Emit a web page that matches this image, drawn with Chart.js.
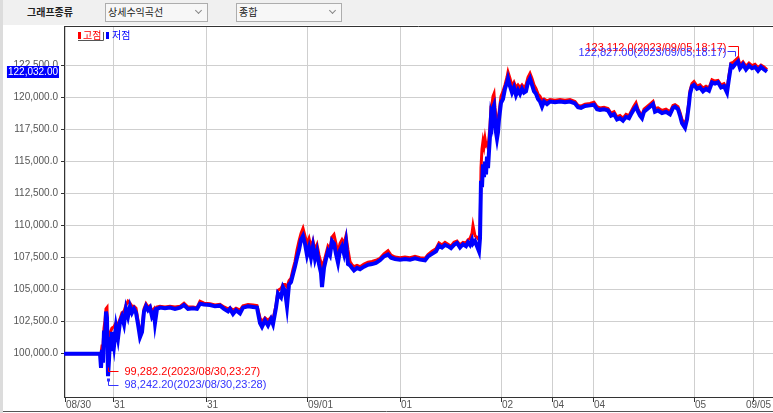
<!DOCTYPE html>
<html>
<head>
<meta charset="utf-8">
<title>상세수익곡선</title>
<script src="https://cdn.jsdelivr.net/npm/chart.js@4.4.0/dist/chart.umd.min.js"></script>
<style>
  body { margin: 0; background: #fff; }
  #wrap { position: relative; width: 773px; height: 413px; overflow: hidden; font-family: "Noto Sans CJK KR", sans-serif; }
  #chart { position: absolute; left: 0; top: 0; }
  #bar { position: absolute; left: 0; top: 0; width: 773px; height: 25px; background: #f0f0f0; }
  #bar .title { position: absolute; left: 27px; top: 6px; font-size: 10px; line-height: 12px; font-weight: bold; color: #222; }
  .combo { position: absolute; top: 3px; height: 19px; border: 1px solid #adadad; background: #f7f7f7; font-size: 10px; line-height: 12px; color: #222; box-sizing: border-box; }
  .combo span { position: absolute; left: 2px; top: 2px; }
  .combo i { position: absolute; right: 6px; top: 4px; width: 4px; height: 4px; border-right: 1px solid #888; border-bottom: 1px solid #888; transform: rotate(45deg); }
  #edge { position: absolute; left: 0; top: 0; width: 3px; height: 413px; background: #dcdcdc; }
</style>
</head>
<body>
<div id="wrap">
  <canvas id="chart" width="773" height="413"></canvas>
  <div id="bar">
    <div class="title">그래프종류</div>
    <div class="combo" style="left:105px;width:103px"><span>상세수익곡선</span><i></i></div>
    <div class="combo" style="left:236px;width:106px"><span>종합</span><i></i></div>
  </div>
  <div id="edge"></div>
</div>
<script>
// bar number (x), low and high equity values
const barIdx = [0, 36, 37, 38, 39, 40, 41, 42, 43, 44, 45, 46, 47, 48, 50, 52, 54, 56, 58, 60, 62, 64, 66, 68, 70, 72, 74, 76, 78, 80,
  82, 84, 86, 88, 90, 91, 93, 96, 101, 106, 111, 116, 120, 124, 129, 133, 136, 140, 146, 151, 156, 160, 164, 166, 169, 172, 176, 179, 184, 189,
  193, 196, 198, 201, 204, 207, 209, 212, 214, 217, 219, 221, 223, 225, 227, 229, 231, 233, 235, 237, 239, 241, 243, 245, 247, 249, 251, 253, 255, 257,
  258, 260, 262, 264, 266, 268, 270, 272, 274, 276, 278, 280, 282, 284, 286, 288, 290, 293, 296, 300, 304, 308, 312, 316, 320, 324, 327, 331, 336, 341,
  346, 351, 356, 361, 364, 368, 372, 375, 378, 381, 384, 387, 390, 393, 396, 399, 402, 404, 406, 408, 409, 411, 413, 415, 416, 417, 418, 419, 420, 421,
  422, 423, 424, 425, 426, 427, 428, 429, 430, 431, 432, 433, 434, 435, 437, 439, 441, 443, 444, 446, 448, 450, 452, 454, 456, 458, 460, 462, 464, 466,
  468, 470, 472, 474, 476, 478, 480, 483, 486, 491, 496, 501, 506, 511, 514, 517, 521, 526, 530, 533, 536, 540, 544, 547, 550, 553, 556, 559, 562, 565,
  567, 570, 572, 574, 576, 578, 580, 583, 586, 589, 591, 594, 598, 602, 606, 609, 611, 614, 616, 618, 621, 623, 625, 626, 628, 630, 633, 636, 639, 642,
  645, 648, 651, 654, 657, 660, 663, 665, 667, 669, 671, 674, 676, 679, 682, 685, 688, 691, 694, 697, 700, 703];

const lowVals = [100000, 100000, 98900, 100300, 99300, 101800, 101000, 103300, 102800, 98242.2, 99500, 101300, 100200, 101700, 100600, 102100, 101200, 102500, 102900, 102300, 103500, 102900, 103700, 103200, 103500, 103200, 102300, 101300, 101700, 103300,
  103700, 103400, 103600, 102900, 103200, 102400, 103500, 103600, 103550, 103600, 103500, 103600, 103800, 103500, 103550, 103500, 103900, 103850, 103800, 103700, 103750, 103500, 103300, 103500, 103100, 103400, 103150, 103600, 103700, 103650,
  103600, 102400, 102100, 102600, 102200, 102700, 102300, 103600, 104700, 104400, 105200, 104900, 103700, 105400, 105600, 106200, 106800, 107500, 108100, 108900, 109200, 108600, 107700, 108300, 107500, 108400, 107400, 108000, 107000, 106300,
  105200, 106700, 107400, 108000, 107700, 108800, 108600, 107800, 107100, 108100, 108400, 107800, 108700, 107000, 106900, 106700, 106500, 106700, 106600, 106800, 106950, 107000, 107100, 107300, 107600, 107750, 107500, 107400, 107350, 107400,
  107350, 107450, 107350, 107300, 107600, 107800, 108000, 108450, 108300, 108500, 108400, 108250, 108500, 108650, 108300, 108550, 108400, 108700, 108500, 108900, 108600, 108800, 108400, 108000, 109000, 113500, 113000, 114800, 113800, 115000,
  114000, 115400, 114500, 115800, 117000, 118500, 118100, 119200, 119400, 118300, 117300, 116800, 117300, 118300, 119600, 119900, 120700, 121200, 121500, 120900, 120400, 120800, 120200, 120600, 120300, 120700, 120400, 120500, 121200, 121500,
  121000, 120500, 120300, 119900, 119700, 119300, 119700, 119500, 119700, 119650, 119700, 119650, 119700, 119550, 119250, 119200, 119350, 119400, 119450, 119100, 119050, 119100, 119000, 118600, 118700, 118300, 118400, 118200, 118500, 118400,
  118700, 119100, 119300, 118900, 118600, 118400, 118900, 119100, 119300, 119500, 118900, 119000, 118800, 118900, 118700, 119200, 119300, 119100, 118600, 118000, 117650, 118300, 119500, 120300, 120900, 121000, 120700, 120800, 120500, 120700,
  120550, 121200, 121100, 121200, 120800, 120900, 120400, 121500, 122500, 122400, 122600, 122827, 122300, 122600, 122200, 122500, 122300, 122400, 122100, 122400, 122200, 122032];

const highVals = [100000, 100000, 100000, 100600, 100600, 102000, 102600, 103500, 103600, 99282.2, 100500, 101700, 101800, 102000, 102100, 102400, 102300, 102700, 103200, 103300, 103800, 104100, 103950, 103700, 103700, 103550, 102600, 101650, 102000, 103500,
  103900, 103650, 103750, 103300, 103500, 103000, 103650, 103700, 103650, 103700, 103650, 103700, 103950, 103650, 103650, 103600, 104100, 103950, 103900, 103800, 103850, 103650, 103500, 103600, 103400, 103550, 103400, 103750, 103850, 103800,
  103750, 102800, 102500, 102800, 102600, 102850, 102700, 103750, 104950, 105100, 105400, 105400, 105200, 105700, 105900, 106600, 107200, 108100, 108800, 109400, 109800, 109200, 108600, 109000, 108300, 108800, 108100, 108500, 107700, 107100,
  106800, 107200, 107800, 108400, 108200, 109100, 109300, 108600, 107800, 108600, 108900, 108600, 109200, 108100, 107200, 106950, 106800, 106900, 106800, 107000, 107150, 107200, 107300, 107450, 107800, 108050, 107700, 107550, 107500, 107550,
  107500, 107600, 107500, 107450, 107750, 108000, 108200, 108650, 108500, 108700, 108550, 108400, 108700, 108800, 108500, 108700, 108650, 108900, 109000, 109400, 110000, 109200, 109100, 108900, 109200, 114500, 116000, 116600, 116200, 116800,
  116300, 116400, 116100, 116900, 117800, 119300, 119500, 120100, 120300, 119200, 118500, 117800, 118000, 118800, 120100, 120500, 121000, 121600, 122000, 121500, 120900, 121200, 120800, 121000, 120800, 121000, 120800, 121000, 121600, 121900,
  121500, 121000, 120700, 120300, 120100, 119800, 119900, 119750, 119850, 119800, 119850, 119800, 119850, 119700, 119400, 119350, 119500, 119550, 119650, 119300, 119200, 119250, 119150, 118800, 118900, 118500, 118600, 118400, 118700, 118600,
  118900, 119350, 119600, 119100, 118800, 118650, 119100, 119300, 119500, 119700, 119150, 119200, 119000, 119100, 118900, 119400, 119450, 119300, 118850, 118300, 117900, 118550, 119750, 120550, 121100, 121250, 120900, 121000, 120750, 120900,
  120750, 121400, 121300, 121350, 121000, 121100, 120650, 121750, 122700, 122750, 122900, 123112, 122550, 122800, 122450, 122700, 122500, 122600, 122350, 122550, 122400, 122200];

// x axis labels and the bars they sit on
const tickPos = [1, 49, 142, 243, 336, 437, 488, 529, 630, 689];
const tickText = ['08/30', '31', '31', '09/01', '01', '02', '04', '04', '05', '09/05'];
const yTicks = [100000, 102500, 105000, 107500, 110000, 112500, 115000, 117500, 120000, 122500];

const hiMaxTime = '2023/09/05,18:17';
const loMaxTime = '2023/09/05,18:17';
const hiMinTime = '2023/08/30,23:27';
const loMinTime = '2023/08/30,23:28';

const RED = '#ff0000';
const BLUE = '#0000ff';
const NUM_FONT = '"Liberation Sans", Arial, sans-serif';

function fmt(v, d) {
  return v.toLocaleString('en-US', { minimumFractionDigits: d, maximumFractionDigits: d });
}

const decor = {
  id: 'decor',
  afterDraw(chart) {
    const { ctx, chartArea: a, scales: { x, y } } = chart;
    ctx.save();

    // top frame line + bottom window line
    ctx.strokeStyle = '#333';
    ctx.lineWidth = 1;
    ctx.beginPath();
    ctx.moveTo(a.left, a.top + 0.5);
    ctx.lineTo(a.right, a.top + 0.5);
    ctx.stroke();
    ctx.strokeStyle = '#555';
    ctx.beginPath();
    ctx.moveTo(0, 411.5);
    ctx.lineTo(chart.width, 411.5);
    ctx.stroke();

    // x labels (last one pulled in so it fits)
    ctx.font = '10px ' + NUM_FONT;
    ctx.fillStyle = '#555';
    ctx.textBaseline = 'middle';
    ctx.textAlign = 'left';
    tickPos.forEach((p, i) => {
      let px = x.getPixelForValue(p) + 1;
      const w = ctx.measureText(tickText[i]).width;
      if (px + w > chart.width - 2) px = chart.width - 2 - w;
      ctx.fillText(tickText[i], px, a.bottom + 8);
    });

    // legend
    ctx.font = '10px "Noto Sans CJK KR", sans-serif';
    ctx.fillStyle = RED;
    ctx.fillRect(a.left + 14, a.top + 6, 3, 7);
    ctx.fillText('고점', a.left + 19, a.top + 9.5);
    ctx.fillStyle = BLUE;
    ctx.fillRect(a.left + 42, a.top + 6, 3, 7);
    ctx.fillText('저점', a.left + 48, a.top + 9.5);
    ctx.strokeStyle = '#555';
    ctx.beginPath();
    ctx.moveTo(a.left + 14, a.top + 14.5);
    ctx.lineTo(a.left + 39.5, a.top + 14.5);
    ctx.lineTo(a.left + 39.5, a.top + 6);
    ctx.stroke();

    // max / min notes
    ctx.font = '11px ' + NUM_FONT;
    ctx.lineWidth = 1;
    const iHiMax = highVals.indexOf(Math.max(...highVals));
    const iLoMax = lowVals.indexOf(Math.max(...lowVals));
    const iHiMin = highVals.indexOf(Math.min(...highVals));
    const iLoMin = lowVals.indexOf(Math.min(...lowVals));

    let px = Math.round(x.getPixelForValue(barIdx[iHiMax])) + 0.5;
    let py = Math.round(y.getPixelForValue(highVals[iHiMax])) + 0.5;
    ctx.strokeStyle = RED; ctx.fillStyle = RED;
    ctx.beginPath();
    ctx.moveTo(px, py - 2); ctx.lineTo(px, py - 12); ctx.lineTo(px - 10, py - 12);
    ctx.stroke();
    ctx.textAlign = 'right';
    ctx.fillText(fmt(highVals[iHiMax], 1) + '(' + hiMaxTime + ')', px - 12, py - 11);

    px = Math.round(x.getPixelForValue(barIdx[iLoMax])) - 2.5;
    py = Math.round(y.getPixelForValue(lowVals[iLoMax])) + 0.5;
    ctx.strokeStyle = '#3333ff'; ctx.fillStyle = '#3333ff';
    ctx.beginPath();
    ctx.moveTo(px, py - 5); ctx.lineTo(px, py - 10); ctx.lineTo(px - 8, py - 10);
    ctx.stroke();
    ctx.fillText(fmt(lowVals[iLoMax], 2) + '(' + loMaxTime + ')', px - 9, py - 9);

    ctx.textAlign = 'left';
    px = Math.round(x.getPixelForValue(barIdx[iHiMin])) + 0.5;
    py = Math.round(y.getPixelForValue(highVals[iHiMin])) + 0.5;
    ctx.strokeStyle = RED; ctx.fillStyle = RED;
    ctx.beginPath();
    ctx.moveTo(px, py + 4); ctx.lineTo(px, py + 8); ctx.lineTo(px + 10, py + 8);
    ctx.stroke();
    ctx.fillText(fmt(highVals[iHiMin], 1) + '(' + hiMinTime + ')', px + 16, py + 8);

    px = Math.round(x.getPixelForValue(barIdx[iLoMin])) + 0.5;
    py = Math.round(y.getPixelForValue(lowVals[iLoMin])) + 0.5;
    ctx.strokeStyle = '#3333ff'; ctx.fillStyle = '#3333ff';
    ctx.fillRect(px - 1.5, py + 2, 3, 3);
    ctx.beginPath();
    ctx.moveTo(px, py + 4); ctx.lineTo(px, py + 9); ctx.lineTo(px + 10, py + 9);
    ctx.stroke();
    ctx.fillText(fmt(lowVals[iLoMin], 2) + '(' + loMinTime + ')', px + 16, py + 8.5);

    // current value tag on the y axis
    const last = lowVals[lowVals.length - 1];
    const ty = Math.round(y.getPixelForValue(last));
    ctx.font = '10px ' + NUM_FONT;
    const label = fmt(last, 2);
    const w = ctx.measureText(label).width;
    ctx.fillStyle = BLUE;
    ctx.fillRect(58 - w - 1, ty - 6, w + 2, 12);
    ctx.fillStyle = '#fff';
    ctx.textAlign = 'right';
    ctx.fillText(label, 58, ty);

    ctx.restore();
  }
};

new Chart(document.getElementById('chart'), {
  type: 'line',
  data: {
    datasets: [
      {
        label: '저점',
        data: barIdx.map((b, i) => ({ x: b, y: lowVals[i] })),
        borderColor: BLUE,
        borderWidth: 4,
        pointRadius: 0,
        order: 0
      },
      {
        label: '고점',
        data: barIdx.map((b, i) => ({ x: b, y: highVals[i] })),
        borderColor: RED,
        borderWidth: 3,
        pointRadius: 0,
        order: 1
      }
    ]
  },
  options: {
    responsive: false,
    animation: false,
    layout: { padding: { top: 26, left: 0, right: 0, bottom: 2 } },
    plugins: { legend: { display: false }, tooltip: { enabled: false } },
    scales: {
      x: {
        type: 'linear',
        min: 0,
        max: 709,
        afterBuildTicks: s => { s.ticks = tickPos.map(v => ({ value: v })); },
        afterFit: s => { s.height = 14; },
        grid: { color: '#cfcfcf', tickColor: '#333', tickLength: 5 },
        border: { color: '#333' },
        ticks: { display: false }
      },
      y: {
        min: 96617,
        max: 125600,
        afterBuildTicks: s => { s.ticks = yTicks.map(v => ({ value: v })); },
        afterFit: s => { s.width = 64; },
        grid: { color: '#cfcfcf', tickColor: '#333', tickLength: 3 },
        border: { color: '#333' },
        ticks: {
          padding: 3,
          color: '#555',
          font: { family: NUM_FONT, size: 10 },
          callback: v => fmt(v, 1)
        }
      }
    }
  },
  plugins: [decor]
});
</script>
</body>
</html>
